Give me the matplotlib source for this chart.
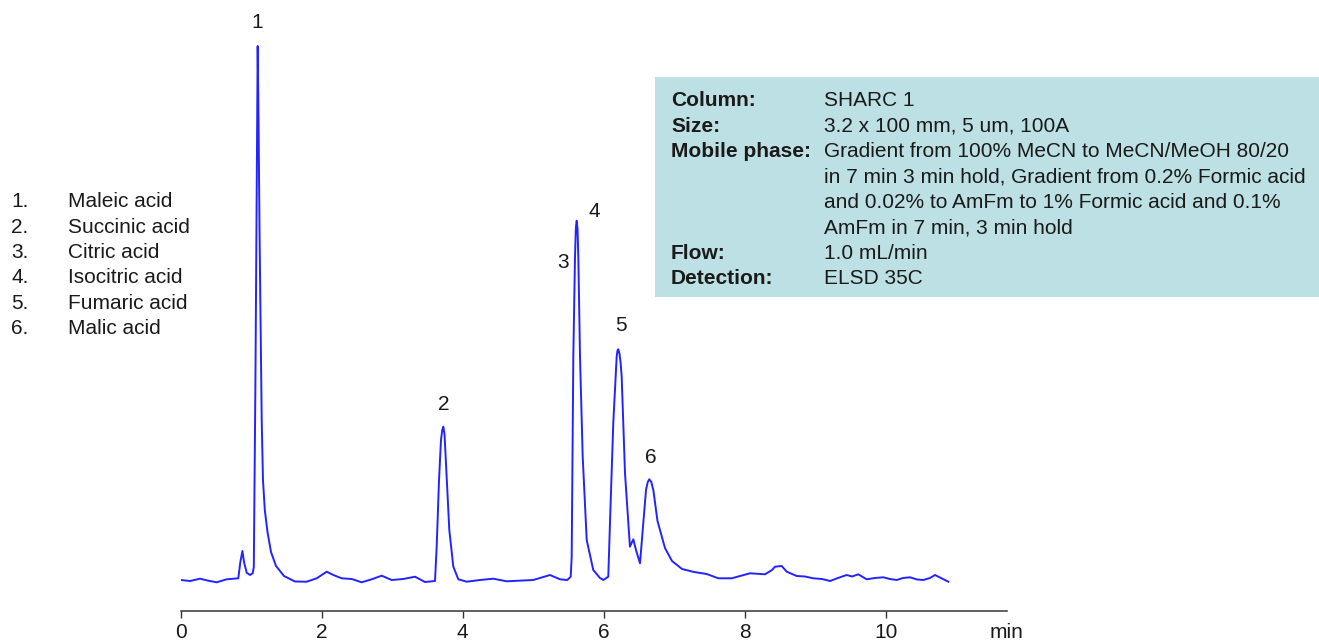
import numpy as np
import matplotlib
matplotlib.use("Agg")
from matplotlib import pyplot as plt
from matplotlib.patches import Rectangle

plt.rcParams['font.family'] = ['Liberation Sans', 'DejaVu Sans']

# trace: time (min), detector signal (arb.)
time_min = [0.000, 0.132, 0.274, 0.391, 0.511, 0.652, 0.817, 0.844, 0.875, 0.901,
            0.936, 0.983, 1.021, 1.037, 1.048, 1.060, 1.072, 1.082, 1.092, 1.104,
            1.118, 1.135, 1.149, 1.167, 1.193, 1.231, 1.281, 1.352, 1.465, 1.621,
            1.787, 1.929, 2.071, 2.165, 2.284, 2.426, 2.567, 2.709, 2.851, 2.993,
            3.157, 3.323, 3.465, 3.607, 3.631, 3.664, 3.692, 3.710, 3.725, 3.742,
            3.763, 3.810, 3.867, 3.938, 4.057, 4.245, 4.434, 4.624, 4.813, 5.001,
            5.238, 5.380, 5.484, 5.532, 5.546, 5.569, 5.593, 5.605, 5.617, 5.629,
            5.640, 5.664, 5.702, 5.759, 5.852, 5.947, 5.994, 6.065, 6.089, 6.136,
            6.184, 6.196, 6.207, 6.225, 6.240, 6.255, 6.302, 6.349, 6.372, 6.420,
            6.458, 6.515, 6.562, 6.600, 6.625, 6.647, 6.675, 6.704, 6.763, 6.869,
            6.969, 7.111, 7.281, 7.461, 7.626, 7.816, 7.933, 8.075, 8.288, 8.387,
            8.430, 8.525, 8.596, 8.738, 8.855, 8.973, 9.097, 9.210, 9.323, 9.447,
            9.522, 9.611, 9.730, 9.848, 9.966, 10.061, 10.156, 10.245, 10.345, 10.444,
            10.533, 10.628, 10.699, 10.799, 10.888]
signal = [0.0, -1.0, 1.3, -0.7, -2.3, 0.7, 1.7, 17.0, 29.0, 17.0,
          7.3, 5.0, 6.7, 13.0, 100.0, 200.0, 330.0, 440.0, 534.0, 460.0,
          350.0, 250.0, 160.0, 100.0, 70.0, 48.0, 28.0, 14.0, 4.0, -1.5,
          -1.7, 1.7, 8.3, 5.0, 1.7, 1.0, -2.3, 0.7, 4.3, 0.0,
          1.0, 3.3, -2.0, -1.0, 33.3, 100.0, 140.0, 150.0, 153.3, 146.0,
          117.0, 50.0, 13.3, 0.7, -1.7, 0.0, 1.3, -1.3, -0.7, 0.0,
          5.0, 0.7, 0.0, 3.3, 23.3, 223.3, 323.3, 352.0, 359.3, 351.0,
          323.3, 223.3, 123.3, 40.0, 10.0, 2.0, 0.0, 3.3, 57.0, 157.0,
          223.3, 229.5, 230.7, 226.0, 217.0, 203.3, 107.0, 57.0, 33.3, 40.7,
          30.0, 16.7, 57.0, 90.0, 98.0, 100.7, 98.0, 90.0, 59.0, 32.0,
          19.0, 11.0, 8.0, 6.0, 1.7, 1.7, 4.0, 6.7, 5.7, 10.0,
          13.3, 14.0, 8.3, 4.0, 3.5, 1.7, 1.0, -1.0, 2.0, 5.0,
          3.5, 5.7, 0.7, 2.0, 2.7, 1.0, 0.0, 2.0, 2.7, 0.5,
          0.0, 2.0, 5.0, 1.5, -1.7]

peak_ids = ['1', '2', '3', '4', '5', '6']
peak_rt = [1.092, 3.725, 5.617, 5.617, 6.207, 6.647]
compounds = ['Maleic acid', 'Succinic acid', 'Citric acid',
             'Isocitric acid', 'Fumaric acid', 'Malic acid']
xticks = [0, 2, 4, 6, 8, 10]

conditions = [
    ('Column:', 'SHARC 1'),
    ('Size:', '3.2 x 100 mm, 5 um, 100A'),
    ('Mobile phase:', 'Gradient from 100% MeCN to MeCN/MeOH 80/20'),
    ('', 'in 7 min 3 min hold, Gradient from 0.2% Formic acid'),
    ('', 'and 0.02% to AmFm to 1% Formic acid and 0.1%'),
    ('', 'AmFm in 7 min, 3 min hold'),
    ('Flow:', '1.0 mL/min'),
    ('Detection:', 'ELSD 35C'),
]

W, H = 1319, 641
fig = plt.figure(figsize=(W / 100, H / 100), dpi=100)
txt = '#1a1a1a'
fs = 15

# axes placed so the time axis line sits where it does in the original
ax = fig.add_axes([180.7 / W, (H - 611) / H, 826 / W, 611 / H])
ax.plot(time_min, signal, color='#2323ff', lw=1.4, solid_joinstyle='round')
ax.set_xlim(0, 826 / 70.5)
ax.set_ylim(-31, 580)
for side in ('left', 'right', 'top'):
    ax.spines[side].set_visible(False)
ax.spines['bottom'].set_color('#333333')
ax.spines['bottom'].set_linewidth(1.1)
ax.set_yticks([])
ax.set_xticks(xticks)
ax.set_xticklabels([str(v) for v in xticks])
ax.tick_params(axis='x', direction='out', length=5, width=1, color='#333333',
               pad=3.3, labelsize=fs, labelcolor=txt)
ax.annotate('min', xy=(1, 0), xycoords='axes fraction', xytext=(0, -8.3),
            textcoords='offset points', ha='center', va='top', fontsize=fs, color=txt)

# peak numbers, offset (points) from each apex
label_off = [(0, 12.6), (0, 12.2), (-10, -33.8), (13, 2.9), (2.2, 13), (1.4, 11.5)]
for pid, rt, (dx, dy) in zip(peak_ids, peak_rt, label_off):
    apex = np.interp(rt, time_min, signal)
    ax.annotate(pid, xy=(rt, apex), xytext=(dx, dy), textcoords='offset points',
                ha='center', va='baseline', fontsize=fs, color=txt)

# compound list on the left
for i, (pid, name) in enumerate(zip(peak_ids, compounds)):
    yb = 1 - (207.5 + 25.3 * i) / H
    fig.text(11.5 / W, yb, pid + '.', fontsize=fs, color=txt, va='baseline')
    fig.text(68 / W, yb, name, fontsize=fs, color=txt, va='baseline')

# conditions box
fig.patches.append(Rectangle((655 / W, 1 - 297 / H), (W - 655) / W, 220 / H,
                             transform=fig.transFigure, facecolor='#bce0e3',
                             edgecolor='none', zorder=0))
for i, (lab, val) in enumerate(conditions):
    yb = 1 - (106.5 + 25.4 * i) / H
    if lab:
        fig.text(671 / W, yb, lab, fontsize=fs, color=txt, weight='bold', va='baseline')
    fig.text(824 / W, yb, val, fontsize=fs, color=txt, va='baseline')

fig.savefig('out.png', dpi=100)
